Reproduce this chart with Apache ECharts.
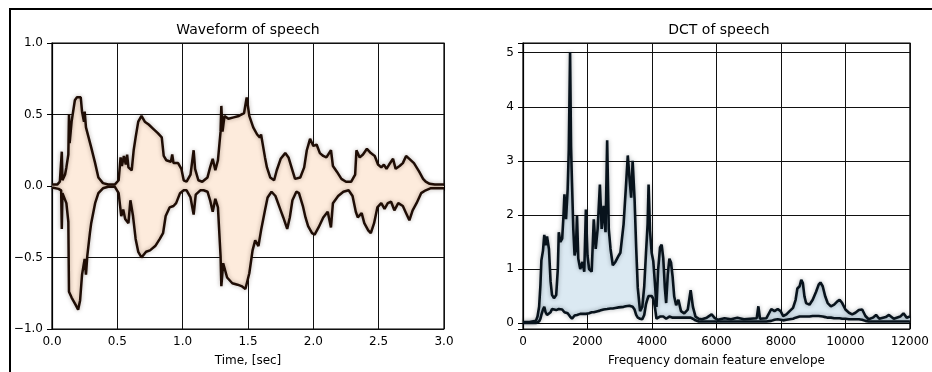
<!DOCTYPE html>
<html><head><meta charset="utf-8">
<script src="https://cdn.jsdelivr.net/npm/echarts@6/dist/echarts.min.js"></script>
<style>html,body{margin:0;padding:0;background:#fff}#c{width:932px;height:372px}</style>
</head><body><div id="c"></div>
<script>
// ---- Waveform envelope (left) ----
const waveTimeUpper = [0.00,0.04,0.06,0.07,0.075,0.08,0.10,0.11,0.125,0.13,0.135,0.15,0.175,0.19,0.205,0.22,0.23,0.245,0.25,0.26,0.28,0.30,0.33,0.355,0.39,0.43,0.48,0.51,0.525,0.535,0.55,0.565,0.575,0.585,0.61,0.625,0.64,0.66,0.685,0.71,0.74,0.775,0.81,0.84,0.855,0.875,0.91,0.92,0.93,0.965,0.99,1.008,1.03,1.06,1.084,1.095,1.12,1.15,1.19,1.21,1.23,1.25,1.27,1.29,1.296,1.305,1.32,1.35,1.39,1.43,1.47,1.49,1.51,1.54,1.57,1.59,1.60,1.63,1.645,1.67,1.70,1.72,1.75,1.785,1.81,1.84,1.86,1.90,1.93,1.95,1.975,1.98,2.00,2.025,2.05,2.076,2.10,2.135,2.15,2.18,2.215,2.25,2.29,2.32,2.33,2.355,2.38,2.41,2.44,2.47,2.495,2.52,2.54,2.56,2.58,2.61,2.63,2.66,2.685,2.71,2.735,2.77,2.81,2.84,2.86,2.89,2.93,3.00];
const waveUpper = [0.01,0.01,0.03,0.04,0.24,0.04,0.08,0.13,0.22,0.50,0.30,0.45,0.60,0.62,0.63,0.62,0.52,0.45,0.52,0.41,0.34,0.27,0.16,0.06,0.02,0.01,0.01,0.04,0.20,0.14,0.21,0.15,0.22,0.13,0.11,0.25,0.34,0.45,0.49,0.45,0.43,0.40,0.37,0.34,0.21,0.18,0.17,0.22,0.16,0.16,0.12,0.04,0.03,0.08,0.25,0.12,0.04,0.03,0.06,0.13,0.19,0.11,0.18,0.38,0.56,0.38,0.49,0.47,0.48,0.49,0.51,0.62,0.49,0.41,0.36,0.34,0.36,0.20,0.13,0.06,0.04,0.11,0.19,0.23,0.20,0.11,0.05,0.06,0.13,0.25,0.33,0.34,0.28,0.29,0.23,0.21,0.20,0.25,0.14,0.10,0.05,0.03,0.03,0.08,0.25,0.20,0.22,0.26,0.23,0.21,0.15,0.13,0.15,0.12,0.15,0.19,0.12,0.14,0.16,0.21,0.19,0.16,0.10,0.05,0.03,0.015,0.01,0.01];
const waveTimeLower = [0.00,0.05,0.07,0.075,0.08,0.11,0.125,0.13,0.15,0.18,0.20,0.215,0.23,0.25,0.26,0.27,0.29,0.30,0.33,0.355,0.39,0.43,0.48,0.51,0.53,0.545,0.56,0.585,0.60,0.62,0.64,0.66,0.685,0.72,0.75,0.79,0.825,0.85,0.87,0.90,0.93,0.95,0.98,1.008,1.03,1.06,1.084,1.10,1.135,1.16,1.19,1.21,1.23,1.25,1.27,1.29,1.296,1.31,1.34,1.38,1.42,1.45,1.48,1.51,1.535,1.555,1.58,1.60,1.63,1.65,1.68,1.71,1.75,1.77,1.80,1.82,1.84,1.87,1.89,1.92,1.94,1.96,1.99,2.01,2.04,2.076,2.11,2.135,2.15,2.19,2.23,2.27,2.30,2.325,2.34,2.37,2.39,2.42,2.44,2.465,2.49,2.52,2.545,2.57,2.595,2.62,2.65,2.685,2.71,2.735,2.76,2.79,2.825,2.86,2.90,3.00];
const waveLower = [-0.01,-0.02,-0.03,-0.30,-0.05,-0.12,-0.25,-0.74,-0.78,-0.83,-0.865,-0.80,-0.62,-0.51,-0.62,-0.49,-0.33,-0.26,-0.12,-0.05,-0.016,-0.005,-0.005,-0.05,-0.21,-0.165,-0.23,-0.26,-0.10,-0.21,-0.37,-0.46,-0.50,-0.46,-0.45,-0.42,-0.37,-0.33,-0.21,-0.15,-0.14,-0.12,-0.05,-0.03,-0.03,-0.08,-0.20,-0.06,-0.03,-0.03,-0.04,-0.10,-0.18,-0.09,-0.15,-0.49,-0.70,-0.54,-0.64,-0.68,-0.69,-0.70,-0.72,-0.61,-0.45,-0.38,-0.42,-0.31,-0.17,-0.08,-0.04,-0.07,-0.17,-0.22,-0.30,-0.22,-0.10,-0.04,-0.05,-0.14,-0.22,-0.28,-0.33,-0.34,-0.29,-0.22,-0.18,-0.29,-0.12,-0.07,-0.04,-0.03,-0.07,-0.18,-0.22,-0.19,-0.26,-0.31,-0.33,-0.26,-0.15,-0.12,-0.16,-0.12,-0.11,-0.17,-0.12,-0.14,-0.19,-0.24,-0.17,-0.12,-0.05,-0.03,-0.015,-0.015];
const timeTicks = [0, 3, 0.5];
const ampTicks = [-1, 1, 0.5];

// ---- DCT envelope (right) ----
const dctFreq = [0,200,400,450,500,540,570,620,660,700,745,805,855,900,960,1030,1080,1110,1160,1215,1255,1285,1335,1385,1420,1460,1490,1520,1560,1600,1640,1675,1715,1775,1845,1900,1950,2000,2050,2130,2195,2255,2315,2385,2440,2500,2560,2610,2660,2715,2785,2865,2920,2970,3020,3120,3190,3250,3300,3355,3400,3460,3510,3560,3630,3700,3760,3815,3865,3895,3940,3990,4040,4090,4140,4190,4250,4300,4350,4400,4440,4490,4540,4590,4640,4690,4750,4820,4900,5000,5110,5200,5270,5350,5450,5550,5700,5850,5950,6050,6250,6450,6650,6850,7050,7250,7300,7350,7550,7700,7800,7900,7990,8070,8170,8270,8375,8455,8510,8580,8630,8680,8730,8780,8885,8985,9090,9170,9225,9295,9375,9450,9550,9650,9750,9820,9900,10000,10110,10210,10310,10415,10520,10620,10720,10850,10950,11050,11250,11350,11500,11700,11800,11900,12000];
const dctUpper = [0.02,0.02,0.04,0.12,0.3,0.7,1.16,1.34,1.63,1.44,1.6,1.37,0.77,0.52,0.46,0.52,1.0,1.68,1.5,1.56,1.98,2.38,1.92,2.47,3.2,5.01,3.26,2.59,1.74,1.25,1.37,1.98,1.19,1.0,1.13,0.95,2.1,1.25,1.0,0.95,1.92,1.37,1.74,2.56,1.74,2.17,1.68,3.38,1.74,1.37,1.07,1.13,1.1,1.25,1.3,1.83,2.5,3.1,2.7,2.32,3.0,2.3,1.4,0.65,0.22,0.3,0.68,1.3,1.83,2.56,1.7,1.3,1.15,0.75,0.3,0.98,1.4,1.45,1.2,0.65,0.37,0.9,1.19,1.12,0.86,0.49,0.33,0.43,0.22,0.18,0.25,0.61,0.3,0.12,0.08,0.07,0.1,0.16,0.09,0.06,0.09,0.07,0.1,0.07,0.08,0.09,0.31,0.08,0.09,0.26,0.22,0.26,0.22,0.13,0.16,0.22,0.28,0.43,0.64,0.68,0.8,0.74,0.49,0.37,0.34,0.43,0.58,0.71,0.75,0.68,0.49,0.37,0.31,0.34,0.4,0.43,0.37,0.25,0.19,0.16,0.19,0.24,0.25,0.13,0.07,0.1,0.15,0.08,0.11,0.15,0.08,0.12,0.18,0.1,0.12];
const dctLower = [0,0,0,0.01,0.03,0.08,0.15,0.25,0.3,0.2,0.15,0.14,0.2,0.26,0.26,0.24,0.25,0.26,0.27,0.25,0.22,0.2,0.2,0.18,0.15,0.12,0.1,0.08,0.1,0.14,0.15,0.15,0.16,0.17,0.17,0.16,0.17,0.18,0.18,0.2,0.2,0.21,0.22,0.23,0.24,0.25,0.25,0.26,0.26,0.27,0.27,0.28,0.28,0.29,0.29,0.3,0.31,0.32,0.32,0.31,0.3,0.25,0.15,0.1,0.08,0.07,0.15,0.35,0.45,0.5,0.5,0.5,0.45,0.3,0.08,0.1,0.12,0.13,0.12,0.1,0.08,0.1,0.12,0.12,0.1,0.1,0.1,0.1,0.1,0.1,0.1,0.1,0.08,0.05,0.03,0.03,0.03,0.03,0.03,0.03,0.03,0.03,0.03,0.03,0.03,0.03,0.03,0.03,0.03,0.04,0.06,0.07,0.06,0.05,0.06,0.07,0.08,0.1,0.11,0.12,0.12,0.12,0.12,0.12,0.12,0.13,0.13,0.13,0.12,0.12,0.11,0.1,0.1,0.09,0.09,0.09,0.08,0.08,0.07,0.07,0.07,0.07,0.06,0.04,0.03,0.03,0.03,0.03,0.03,0.03,0.03,0.03,0.03,0.03,0.03];
const freqTicks = [0, 12000, 2000];
const dctRange = [-0.11, 5.18];

const FONT = 'DejaVu Sans';
const waveLine = '#1f0d05', waveFill = '#fdebdc';
const dctLine = '#08131c', dctFill = '#dbe9f2';

function pairs(xs, ys) { return xs.map((x, i) => [x, ys[i]]); }
// value first, frequency second, so that stacking acts on the value dimension
function valFirst(xs, ys) { return xs.map((x, i) => [ys[i], x]); }
const minus = s => String(s).replace('-', '\u2212');

const axisCommon = {
  axisLine: { show: true, lineStyle: { color: '#000', width: 1.2 } },
  axisTick: { show: true, inside: false, length: 5, lineStyle: { color: '#000', width: 1 } },
  splitLine: { show: true, lineStyle: { color: '#111', width: 1 } },
  nameTextStyle: { fontFamily: FONT, fontSize: 12, color: '#000' }
};
const lbl = (extra) => Object.assign({ fontFamily: FONT, fontSize: 12, color: '#000' }, extra);

const chart = echarts.init(document.getElementById('c'), null, { renderer: 'canvas' });
chart.setOption({
  animation: false,
  backgroundColor: '#fff',
  grid: [
    { left: 52, top: 43, width: 392, height: 290, show: true, borderColor: '#000', borderWidth: 1.2, containLabel: false },
    { left: 523, top: 43, width: 392, height: 290, show: true, borderColor: '#000', borderWidth: 1.2, containLabel: false }
  ],
  xAxis: [
    Object.assign({}, axisCommon, {
      type: 'value', gridIndex: 0, min: timeTicks[0], max: timeTicks[1], interval: timeTicks[2],
      name: 'Time, [sec]', nameLocation: 'middle', nameGap: 26,
      axisLabel: lbl({ margin: 7, formatter: v => v.toFixed(1) })
    }),
    Object.assign({}, axisCommon, {
      type: 'value', gridIndex: 1, min: freqTicks[0], max: freqTicks[1], interval: freqTicks[2],
      name: 'Frequency domain feature envelope', nameLocation: 'middle', nameGap: 26,
      axisLabel: lbl({ margin: 7, formatter: v => String(v) })
    })
  ],
  yAxis: [
    Object.assign({}, axisCommon, {
      type: 'value', gridIndex: 0, min: ampTicks[0], max: ampTicks[1], interval: ampTicks[2],
      axisLabel: lbl({ margin: 9, formatter: v => minus(v.toFixed(1)) })
    }),
    Object.assign({}, axisCommon, {
      type: 'value', gridIndex: 1, min: dctRange[0], max: dctRange[1], splitNumber: 5,
      axisLabel: lbl({ margin: 9, showMinLabel: true, showMaxLabel: true,
        formatter: v => (Math.abs(v - Math.round(v)) < 1e-6 ? String(Math.round(v)) : '') })
    })
  ],
  graphic: [
    { type: 'rect', shape: { x: 10, y: 9, width: 1000, height: 500 }, style: { fill: null, stroke: '#000', lineWidth: 2 }, silent: true, z: 100 },
    { type: 'text', x: 248, y: 30, style: { text: 'Waveform of speech', font: '14px "DejaVu Sans"', fill: '#000', align: 'center', verticalAlign: 'middle' } },
    { type: 'text', x: 719, y: 30, style: { text: 'DCT of speech', font: '14px "DejaVu Sans"', fill: '#000', align: 'center', verticalAlign: 'middle' } }
  ],
  series: [
    {
      type: 'line', xAxisIndex: 0, yAxisIndex: 0, data: pairs(waveTimeUpper, waveUpper),
      showSymbol: false, symbol: 'none', clip: true,
      lineStyle: { color: waveLine, width: 2.5, shadowBlur: 4, shadowColor: 'rgba(40,20,10,0.35)' },
      areaStyle: { color: waveFill, opacity: 1 }
    },
    {
      type: 'line', xAxisIndex: 0, yAxisIndex: 0, data: pairs(waveTimeLower, waveLower),
      showSymbol: false, symbol: 'none', clip: true,
      lineStyle: { color: waveLine, width: 2.5, shadowBlur: 4, shadowColor: 'rgba(40,20,10,0.35)' },
      areaStyle: { color: waveFill, opacity: 1 }
    },
    {
      type: 'line', xAxisIndex: 1, yAxisIndex: 1, stack: 'dct', z: 3,
      encode: { x: 1, y: 0 },
      data: valFirst(dctFreq, dctLower),
      showSymbol: false, symbol: 'none',
      lineStyle: { color: dctLine, width: 2.6, shadowBlur: 4, shadowColor: 'rgba(10,20,30,0.35)' }
    },
    {
      type: 'line', xAxisIndex: 1, yAxisIndex: 1, stack: 'dct',
      encode: { x: 1, y: 0 },
      data: dctFreq.map((f, i) => [dctUpper[i] - dctLower[i], f]),
      showSymbol: false, symbol: 'none',
      lineStyle: { color: dctLine, width: 2.6, shadowBlur: 4, shadowColor: 'rgba(10,20,30,0.35)' },
      areaStyle: { color: dctFill, opacity: 1 }
    }
  ]
});
</script>
</body></html>
